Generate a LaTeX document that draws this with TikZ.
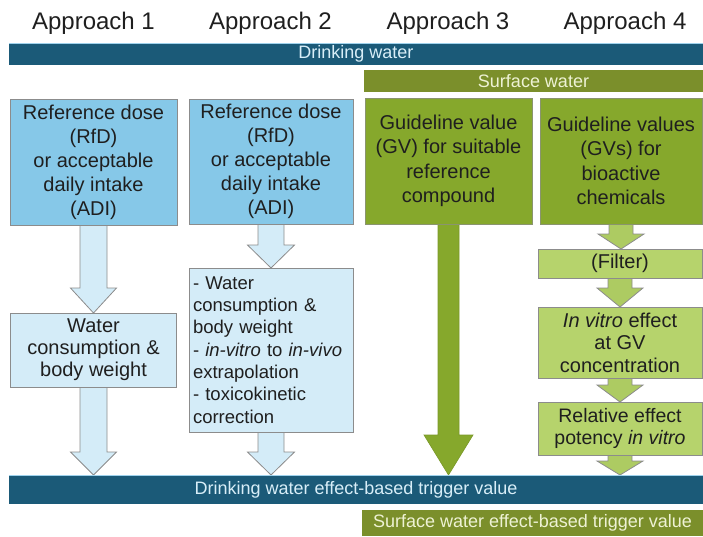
\documentclass[tikz,border=0pt]{standalone}
\usepackage{fontspec}
\setmainfont{Liberation Sans}
\usetikzlibrary{calc}
\pgfdeclarelayer{background}
\pgfsetlayers{background,main}
\definecolor{bardark}{HTML}{1B5A78}
\definecolor{barline}{HTML}{9FD2EC}
\definecolor{olive}{HTML}{7B8F2B}
\definecolor{greenbox}{HTML}{86A82C}
\definecolor{bluebox}{HTML}{86C8E8}
\definecolor{lightblue}{HTML}{D4ECF8}
\definecolor{lightgreen}{HTML}{B6D36C}
\definecolor{arrowgreen}{HTML}{ADCB62}
\definecolor{bordergray}{HTML}{8C8C8C}
\definecolor{textdark}{HTML}{1F1F1F}
\definecolor{bartext}{HTML}{D8EEF8}
\definecolor{surftext}{HTML}{EEF2D4}
% #1 style, #2 start node anchor, #3 end anchor (tip y), #4 shaft half width, #5 head half width, #6 head length
\newcommand\blockarr[6]{\path[#1] let \p1=(#2), \p2=(#3) in
  (\x1-#4,\y1) -- (\x1-#4,\y2+#6) -- (\x1-#5,\y2+#6) -- (\x1,\y2) --
  (\x1+#5,\y2+#6) -- (\x1+#4,\y2+#6) -- (\x1+#4,\y1);}
\begin{document}
\begin{tikzpicture}[x=1pt,y=-1pt,
  title/.style={inner sep=0pt, anchor=base, font=\fontsize{24}{28}\selectfont, text=textdark},
  bar/.style={rectangle, inner sep=0pt, outer sep=0pt, fill=bardark, text=bartext, font=\fontsize{18}{22}\selectfont},
  surfbar/.style={rectangle, inner sep=0pt, outer sep=0pt, fill=olive, text=surftext, font=\fontsize{18}{22}\selectfont},
  box/.style={rectangle, inner sep=0pt, outer sep=0pt, draw=bordergray, line width=0.8pt, align=center, text=textdark},
  bluebx/.style={box, fill=bluebox, font=\fontsize{20}{24}\selectfont},
  greenbx/.style={box, fill=greenbox, draw=bordergray!70!greenbox, font=\fontsize{20}{24.5}\selectfont},
  waterbx/.style={box, fill=lightblue, font=\fontsize{20}{22}\selectfont},
  lgbx/.style={box, fill=lightgreen, font=\fontsize{20}{22.5}\selectfont},
  bluearr/.style={fill=lightblue, draw=bordergray, line width=0.8pt, line join=miter},
  greenarr/.style={fill=greenbox, draw=greenbox!90!black, line width=0.6pt, line join=miter},
  lgarr/.style={fill=arrowgreen, draw=bordergray, line width=0.8pt, line join=miter}
]
\useasboundingbox (0,0) rectangle (703,536);

% titles
\node[title] (t1) at (93.5,29) {Approach 1};
\node[title] (t2) at (270.5,29) {Approach 2};
\node[title] (t3) at (448,29) {Approach 3};
\node[title] (t4) at (625,29) {Approach 4};

% top bars
\node[bar, minimum width=694pt, minimum height=22pt] (dw) at (356,54) {Drinking water};
\node[surfbar, minimum width=339pt, minimum height=22pt] (sw) at (533.5,81) {Surface water};

% first row boxes
\node[bluebx, minimum width=167pt, minimum height=126pt] (b1) at (93.5,162)
  {Reference dose\\(RfD)\\or acceptable\\daily intake\\(ADI)};
\node[bluebx, minimum width=164pt, minimum height=125pt] (b2) at (271,161.5)
  {Reference dose\\(RfD)\\or acceptable\\daily intake\\(ADI)};
\node[greenbx, minimum width=167pt, minimum height=126pt] (b3) at (448.5,161)
  {Guideline value\\(GV) for suitable\\reference\\compound};
\node[greenbx, minimum width=162pt, minimum height=126pt] (b4) at (621,161)
  {Guideline values\\(GVs) for\\bioactive\\chemicals};

% second level boxes
\node[waterbx, minimum width=166pt, minimum height=74pt] (w1) at (93.5,350)
  {Water\\consumption \&\\body weight};
\node[waterbx, minimum width=164pt, minimum height=164pt, align=left,
  text width=156pt, font=\fontsize{18.5}{22.3}\selectfont] (w2) at (271,350)
  {- Water\\consumption \&\\body weight\\- \textit{in-vitro} to \textit{in-vivo}\\extrapolation\\- toxicokinetic\\correction};

% approach 4 chain
\node[lgbx, minimum width=164pt, minimum height=29pt] (f) at (620,263.5) {(Filter)};
\node[lgbx, minimum width=164pt, minimum height=71pt] (iv) at (620,342.5)
  {\textit{In vitro} effect\\at GV\\concentration};
\node[lgbx, minimum width=164pt, minimum height=53pt, font=\fontsize{19.5}{22}\selectfont] (rel) at (620,428.5)
  {Relative effect\\potency \textit{in vitro}};

% bottom bars
\node[bar, minimum width=694pt, minimum height=29pt] (dt) at (356,489.5)
  {Drinking water effect-based trigger value};
\node[surfbar, minimum width=341pt, minimum height=26pt] (st) at (532.5,523)
  {Surface water effect-based trigger value};

\draw[barline, line width=1pt] (dw.north west) -- (dw.north east);
\draw[barline, line width=1pt] (dt.north west) -- (dt.north east);

% block arrows
\begin{pgfonlayer}{background}
\blockarr{bluearr}{b1.south}{w1.north}{13.5pt}{23pt}{25pt}
\blockarr{bluearr}{w1.south}{dt.north}{13.5pt}{23pt}{23pt}
\blockarr{bluearr}{b2.south}{w2.north}{13pt}{23.5pt}{23pt}
\blockarr{bluearr}{w2.south}{dt.north}{13pt}{23.5pt}{23pt}
\blockarr{greenarr}{b3.south}{dt.north}{10.5pt}{24.5pt}{40pt}
\blockarr{lgarr}{b4.south}{f.north}{12pt}{23pt}{15pt}
\blockarr{lgarr}{f.south}{iv.north}{12pt}{23pt}{19pt}
\blockarr{lgarr}{iv.south}{rel.north}{12pt}{23pt}{17pt}
\blockarr{lgarr}{rel.south}{dt.north}{12pt}{23pt}{14pt}
\end{pgfonlayer}
\end{tikzpicture}
\end{document}
